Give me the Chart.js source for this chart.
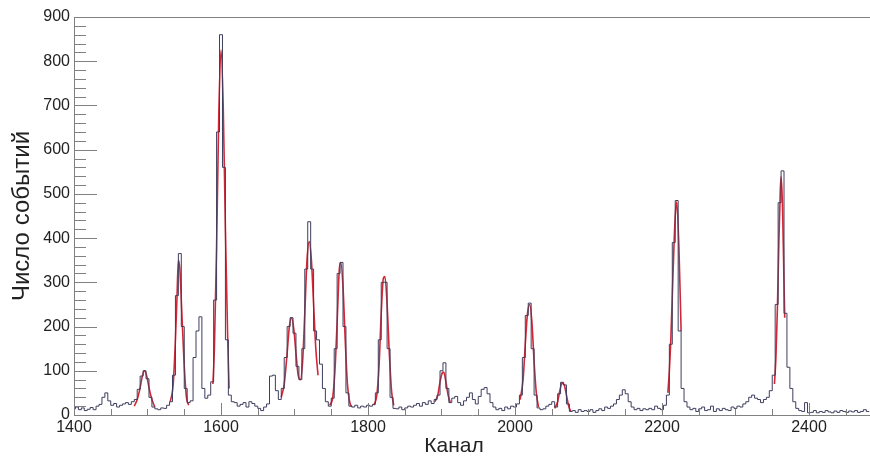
<!DOCTYPE html>
<html>
<head>
<meta charset="utf-8">
<script src="https://cdn.jsdelivr.net/npm/chart.js@4/dist/chart.umd.min.js"></script>
<style>
  body { margin: 0; background: #fff; }
  #wrap { width: 870px; height: 456px; position: relative; }
</style>
</head>
<body>
<div id="wrap"><canvas id="chart1"></canvas></div>
<script>
// histogram: 4-channel bins, first bin centred on channel 1400
var binStart = 1400;
var binWidth = 4;
var counts = [
  14, 18, 12, 16, 10, 13, 17, 12, 20, 24, 40, 50, 32, 22, 26, 18, 22, 25, 28, 24, 30, 35, 58, 88, 100,      // 1400
  82, 40, 18, 14, 12, 16, 15, 22, 30, 90, 270, 365, 200, 60, 28, 32, 130, 190, 222, 60, 38, 45, 75, 260, 640, // 1500
  860, 560, 170, 45, 30, 28, 20, 24, 28, 18, 30, 26, 20, 15, 10, 18, 25, 88, 90, 55, 35, 60, 130, 200, 220,  // 1600
  185, 110, 80, 150, 330, 437, 330, 190, 170, 115, 60, 30, 20, 38, 150, 320, 345, 200, 50, 20, 18, 22, 16, 20, 18, // 1700
  22, 20, 24, 50, 170, 300, 300, 150, 40, 15, 14, 18, 12, 16, 20, 18, 22, 26, 20, 28, 24, 32, 26, 35, 45,   // 1800
  100, 118, 60, 28, 38, 42, 28, 22, 32, 40, 50, 35, 25, 42, 58, 62, 48, 28, 18, 12, 15, 10, 18, 14, 20,     // 1900
  18, 25, 45, 130, 225, 253, 150, 45, 16, 12, 14, 20, 24, 30, 18, 48, 74, 68, 25, 8, 10, 6, 12, 8, 10,      // 2000
  8, 12, 6, 10, 14, 10, 18, 15, 20, 25, 35, 45, 57, 48, 30, 18, 12, 15, 10, 14, 12, 15, 12, 20, 15,         // 2100
  12, 22, 45, 160, 390, 485, 190, 60, 30, 18, 12, 15, 8, 14, 18, 10, 12, 20, 8, 14, 10, 15, 12, 10, 18,     // 2200
  15, 20, 18, 25, 30, 40, 45, 38, 35, 28, 35, 40, 55, 90, 250, 480, 552, 230, 108, 60, 30, 15, 10, 8, 28,   // 2300
  5, 6, 10, 5, 8, 6, 10, 7, 5, 9, 6, 10, 8, 6, 9, 7, 10, 6, 8, 12, 8                                        // 2400
];

// fitted peaks, [channel, counts]
var fit1496 = [[1482, 20], [1486, 35], [1490, 62], [1493, 88], [1496, 100], [1499, 88], [1502, 62], [1506, 35], [1510, 18]];
var fit1542 = [[1531, 30], [1535, 70], [1538, 170], [1540, 260], [1542, 350], [1544, 330], [1547, 220], [1550, 110], [1553, 40], [1556, 22]];
var fit1600 = [[1589, 70], [1591, 150], [1594, 380], [1597, 680], [1600, 825], [1603, 700], [1606, 420], [1609, 180], [1611, 60]];
var fit1708 = [[1682, 40], [1686, 70], [1690, 140], [1693, 200], [1696, 220], [1699, 195], [1702, 140], [1705, 90], [1708, 80],
               [1711, 120], [1714, 230], [1717, 350], [1720, 392], [1723, 350], [1726, 250], [1729, 150], [1732, 90]];
var fit1762 = [[1748, 22], [1752, 40], [1755, 100], [1758, 210], [1761, 330], [1763, 345], [1766, 290], [1769, 170], [1772, 70], [1775, 30], [1778, 18]];
var fit1822 = [[1808, 22], [1812, 45], [1815, 110], [1818, 230], [1821, 310], [1823, 313], [1826, 250], [1829, 140], [1832, 55], [1835, 22]];
var fit1902 = [[1891, 30], [1895, 45], [1898, 75], [1901, 95], [1903, 97], [1906, 75], [1909, 45], [1912, 28]];
var fit2020 = [[2007, 35], [2011, 80], [2014, 160], [2017, 230], [2020, 250], [2023, 210], [2026, 120], [2029, 50], [2032, 18]];
var fit2065 = [[2054, 15], [2058, 30], [2061, 55], [2064, 72], [2067, 68], [2070, 45], [2073, 20], [2076, 8]];
var fit2220 = [[2208, 50], [2210, 100], [2212, 170], [2215, 320], [2218, 450], [2220, 482], [2223, 380], [2226, 190]];
var fit2362 = [[2353, 70], [2355, 130], [2357, 240], [2359, 390], [2361, 510], [2362, 539], [2364, 470], [2366, 300], [2367, 220]];

var xMin = 1400, xMax = 2483;
var yMin = 0, yMax = 900;

var font = 'Liberation Sans, Arial, Helvetica, sans-serif';

// each bin is drawn from its lower edge (centre - binWidth/2)
var histData = counts.map(function(v, i) { return {x: binStart + (i - 0.5) * binWidth, y: v}; });
histData.push({x: binStart + (counts.length - 0.5) * binWidth, y: counts[counts.length - 1]});

var fits = [fit1496, fit1542, fit1600, fit1708, fit1762, fit1822, fit1902, fit2020, fit2065, fit2220, fit2362];

var datasets = [{
  label: 'hist',
  data: histData,
  stepped: true,
  borderColor: '#3e3e5e',
  borderWidth: 1,
  pointRadius: 0,
  fill: false
}];
fits.forEach(function(f) {
  datasets.push({
    label: 'fit',
    data: f.map(function(p) { return {x: p[0], y: p[1]}; }),
    borderColor: '#d02838',
    borderWidth: 1.6,
    pointRadius: 0,
    cubicInterpolationMode: 'monotone',
    fill: false
  });
});

// ROOT style: ticks inside the frame, top frame line, x title
var frameTicks = {
  id: 'frameTicks',
  afterDatasetsDraw: function(chart) {
    var ctx = chart.ctx, a = chart.chartArea;
    var xs = chart.scales.x, ys = chart.scales.y;
    ctx.save();
    ctx.strokeStyle = '#808080';
    ctx.lineWidth = 1;
    ctx.beginPath();
    for (var v = yMin; v <= yMax; v += 20) {
      var py = Math.round(ys.getPixelForValue(v)) + 0.5;
      var len = (v % 100 == 0) ? 23 : 12;
      ctx.moveTo(a.left, py);
      ctx.lineTo(a.left + len, py);
    }
    for (var c = xMin; c <= xMax; c += 50) {
      var px = Math.round(xs.getPixelForValue(c)) + 0.5;
      var l2 = (c % 200 == 0) ? 12 : 6;
      ctx.moveTo(px, a.bottom);
      ctx.lineTo(px, a.bottom - l2);
    }
    ctx.moveTo(a.left, a.top + 0.5);
    ctx.lineTo(a.right, a.top + 0.5);
    ctx.stroke();

    ctx.fillStyle = '#222';
    ctx.font = '21px ' + font;
    ctx.textAlign = 'center';
    ctx.textBaseline = 'middle';
    ctx.fillText('Канал', 454, 446);
    ctx.restore();
  }
};

var ctx = document.getElementById('chart1').getContext('2d');
var chart1 = new Chart(ctx, {
  type: 'line',
  data: {datasets: datasets},
  plugins: [frameTicks],
  options: {
    responsive: true,
    maintainAspectRatio: false,
    animation: false,
    layout: {padding: {top: 17, right: 0, left: 0, bottom: 0}},
    plugins: {legend: {display: false}, tooltip: {enabled: false}},
    scales: {
      x: {
        type: 'linear',
        min: xMin,
        max: xMax,
        afterFit: function(s) { s.height = 41; },
        grid: {display: false, drawTicks: false},
        border: {display: true, color: '#808080', width: 1},
        ticks: {
          stepSize: 200,
          padding: 3,
          color: '#222',
          font: {family: font, size: 16},
          maxRotation: 0,
          callback: function(v) { return v % 200 == 0 ? String(v) : null; }
        }
      },
      y: {
        min: yMin,
        max: yMax,
        afterFit: function(s) { s.width = 74; },
        grid: {display: false, drawTicks: false},
        border: {display: true, color: '#808080', width: 1},
        ticks: {
          stepSize: 100,
          padding: 4,
          color: '#222',
          font: {family: font, size: 16}
        },
        title: {
          display: true,
          text: 'Число событий',
          color: '#222',
          font: {family: font, size: 24},
          padding: {top: 8, bottom: 0}
        }
      }
    }
  }
});
</script>
</body>
</html>
